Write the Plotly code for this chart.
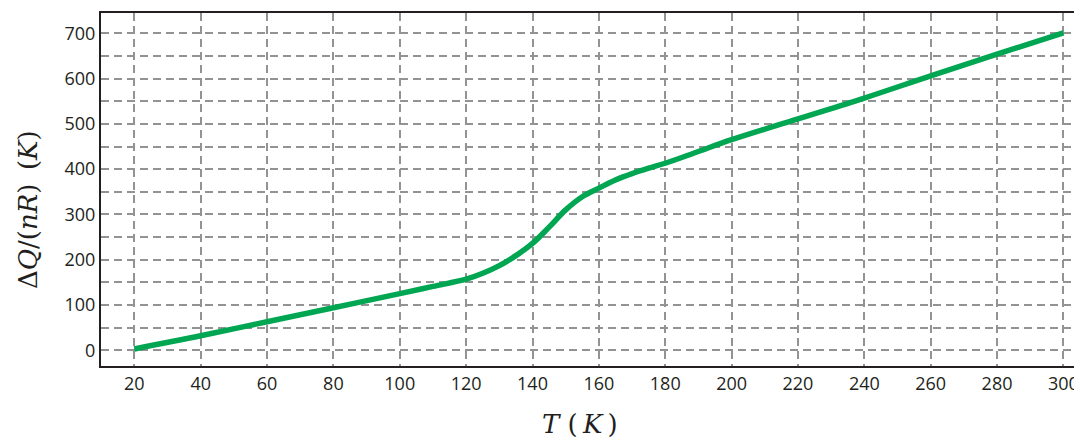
import plotly.graph_objects as go

T = [20, 40, 60, 80, 100, 110, 120, 125, 130, 135, 140, 145, 150, 155, 160, 165, 170, 175, 180, 190, 200, 220, 240, 260, 280, 300]
dQ = [3, 32, 63, 94, 125, 141, 157, 170, 187, 209, 236, 272, 310, 339, 358, 376, 390, 402, 413, 439, 465, 511, 557, 606, 654, 701]

x_ticks = list(range(20, 301, 20))
y_ticks = list(range(0, 701, 100))

x_title = "<i>T</i> (\u2009<i>K</i>\u2009)"
y_title = "Δ<i>Q</i>/(<i>nR</i>)\u2009 (<i>K</i>)"

fig = go.Figure()
fig.add_trace(go.Scatter(
    x=T, y=dQ, mode="lines",
    line=dict(color="#00a651", width=5.5, shape="spline", smoothing=1.0),
    showlegend=False, hoverinfo="skip",
))

grid = dict(showgrid=True, gridcolor="#939393", gridwidth=1.6, griddash="8px,5px")
# page body has an 8px default margin, so the figure is sized 1074x432
fig.update_layout(
    width=1074, height=432,
    margin=dict(l=93, r=0, t=5, b=74),
    paper_bgcolor="white", plot_bgcolor="white",
    font=dict(family="Open Sans", size=18, color="#231f20"),
)
fig.update_xaxes(
    range=[9.96, 305.6], tickmode="array", tickvals=x_ticks,
    ticks="", ticklen=0, automargin=False,
    showline=True, linecolor="#231f20", linewidth=2, mirror=True,
    zeroline=False,
    **grid,
)
fig.update_yaxes(
    range=[-34.7, 744.8], tickmode="array", tickvals=y_ticks,
    ticks="", ticklen=0, automargin=False,
    showline=True, linecolor="#231f20", linewidth=2, mirror=True,
    zeroline=False,
    minor=dict(dtick=50, tick0=0, showgrid=True, gridcolor="#939393", gridwidth=1.6, griddash="8px,5px"),
    **grid,
)
fig.add_annotation(
    text=x_title, xref="paper", yref="paper", x=0.4883, y=-0.1643,
    xanchor="center", yanchor="middle", showarrow=False,
    font=dict(family="DejaVu Serif", size=26, color="#231f20"),
)
fig.add_annotation(
    text=y_title, xref="paper", yref="paper", x=-0.0744, y=0.4419,
    xanchor="center", yanchor="middle", showarrow=False, textangle=-90,
    font=dict(family="DejaVu Serif", size=26, color="#231f20"),
)

fig.write_html("out.html")
